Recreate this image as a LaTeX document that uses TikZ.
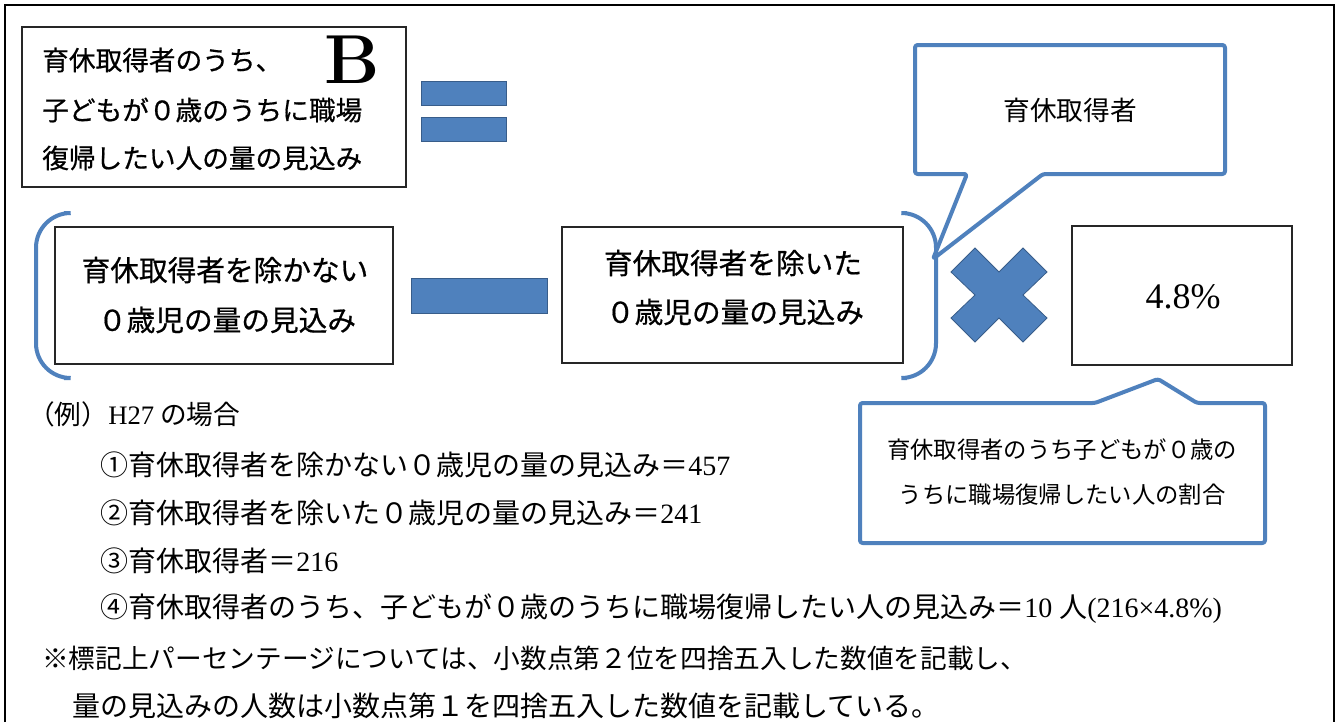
\documentclass[tikz,border=0pt]{standalone}
\usepackage{fontspec}
\newfontfamily\jp{Noto Sans CJK JP}
\newfontfamily\jpb[FakeBold=0.6]{Noto Sans CJK JP}
\newfontfamily\lat{Liberation Serif}
\definecolor{accent}{HTML}{4F81BD}
\definecolor{accentdark}{HTML}{385D8A}
\newcommand{\num}[1]{{\lat #1}}
\begin{document}
\begin{tikzpicture}[x=0.75pt,y=-0.75pt,
  box/.style={draw=black!85,line width=0.9pt,fill=white,inner sep=0pt},
  bluebar/.style={fill=accent,draw=accentdark,line width=0.6pt,inner sep=0pt},
  bline/.style={draw=accent,line width=3pt},
  txt/.style={inner sep=0pt,font=\jp},
  bigt/.style={txt,font=\jpb\fontsize{21.5}{26}\selectfont},
  topt/.style={txt,font=\jpb\fontsize{20}{24}\selectfont},
  callt/.style={txt,font=\jp\fontsize{20}{24}\selectfont},
  smallcallt/.style={txt,font=\jp\fontsize{17.5}{22}\selectfont},
  bodyt/.style={txt,anchor=west,font=\jp\fontsize{21}{24}\selectfont},
  notet/.style={txt,anchor=west,font=\jp\fontsize{20}{24}\selectfont}]
\useasboundingbox (0,0) rectangle (1339,722);
\fill[white] (0,0) rectangle (1339,722);
% outer frame
\draw[line width=1.5pt] (5,722) -- (5,5) -- (1334,5) -- (1334,722);

% top-left box
\node[box,minimum width=288pt,minimum height=120pt] (topbox) at (214,107) {};
\node[topt,anchor=west] (t1) at (42,60) {育休取得者のうち、};
\node[topt,anchor=west] (t2) at (42,110) {子どもが０歳のうちに職場};
\node[topt,anchor=west] (t3) at (42,158) {復帰したい人の量の見込み};
\node[inner sep=0pt,font=\bfseries\fontsize{52}{52}\selectfont] (B) at (352,60) {B};

% equals sign
\node[bluebar,minimum width=63.75pt,minimum height=18pt] (eq1) at (463.5,93) {};
\node[bluebar,minimum width=63.75pt,minimum height=18pt] (eq2) at (463.5,129) {};

% brackets
\draw[bline,rounded corners=26pt] (64,213) -- (36,213) -- (36,378) -- (64,378);
\draw[bline,rounded corners=26pt] (907,213) -- (936,213) -- (936,378) -- (907,378);

% box 1
\node[box,minimum width=253.5pt,minimum height=102.75pt] (box1) at (224,295.5) {};
\node[bigt] (b1a) at (225,270) {育休取得者を除かない};
\node[bigt] (b1b) at (227,320) {０歳児の量の見込み};

% minus
\node[bluebar,minimum width=102pt,minimum height=26.25pt] (minus) at (479,295.5) {};

% box 2
\node[box,minimum width=255.75pt,minimum height=102pt] (box2) at (732.5,295) {};
\node[bigt] (b2a) at (733,263) {育休取得者を除いた};
\node[bigt] (b2b) at (735,312) {０歳児の量の見込み};

% top callout
\coordinate (tip1) at (933,259);
\draw[bline,fill=white,rounded corners=2pt,line join=round]
  (915,45) -- (1225,45) -- (1225,174) -- (1043,174) -- (tip1) -- (967,174) -- (915,174) -- cycle;
\node[callt] (c1) at (1070,110) {育休取得者};

% cross
\begin{scope}[shift={(999,295)}]
\filldraw[fill=accent,draw=accentdark,line width=0.6pt]
  (0,-23) -- (24,-47) -- (48,-23) -- (24,0) -- (48,23) -- (24,47) -- (0,23)
  -- (-24,47) -- (-48,23) -- (-24,0) -- (-48,-23) -- (-24,-47) -- cycle;
\end{scope}
\node[inner sep=0pt] (cross) at (999,295) {};

% percent box
\node[box,minimum width=165pt,minimum height=104.25pt] (pct) at (1182,295.5) {};
\node[inner sep=0pt,font=\lat\fontsize{27}{27}\selectfont] (pcttext) at (1183,297) {4.8\%};

% bottom callout
\coordinate (tip2) at (1158,379);
\draw[bline,fill=white,rounded corners=2pt,line join=round]
  (860,403) -- (1095,403) -- (tip2) -- (1197,403) -- (1265,403) -- (1265,543) -- (860,543) -- cycle;
\node[smallcallt] (c2a) at (1062,450) {育休取得者のうち子どもが０歳の};
\node[smallcallt] (c2b) at (1062,495) {うちに職場復帰したい人の割合};

% bottom text
\node[notet] (l0) at (28,414) {（例）\num{H27} の場合};
\node[bodyt] (l1) at (100,465) {①育休取得者を除かない０歳児の量の見込み＝\num{457}};
\node[bodyt] (l2) at (100,513) {②育休取得者を除いた０歳児の量の見込み＝\num{241}};
\node[bodyt] (l3) at (100,561) {③育休取得者＝\num{216}};
\node[bodyt] (l4) at (100,609) {④育休取得者のうち、子どもが０歳のうちに職場復帰したい人の見込み＝\num{10 }人\num{(216×4.8\%)}};
\node[notet] (l5) at (42,658) {※標記上パーセンテージについては、小数点第２位を四捨五入した数値を記載し、};
\node[bodyt] (l6) at (72,706) {量の見込みの人数は小数点第１を四捨五入した数値を記載している。};
\end{tikzpicture}
\end{document}
